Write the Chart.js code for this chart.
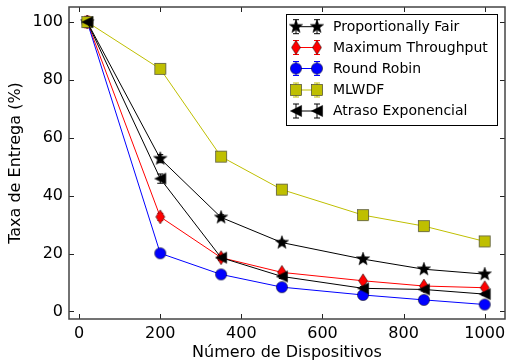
<!DOCTYPE html>
<html>
<head>
<meta charset="utf-8">
<script src="https://cdn.jsdelivr.net/npm/chart.js@4/dist/chart.umd.min.js"></script>
<style>
html,body{margin:0;padding:0;background:#fff;}
#wrap{position:relative;width:507px;height:362px;}
</style>
</head>
<body>
<div id="wrap"><canvas id="c" width="507" height="362"></canvas></div>
<script>
// ---- data ----
const devices = [20, 200, 350, 500, 700, 850, 1000];
const seriesNames = ["Proportionally Fair", "Maximum Throughput", "Round Robin", "MLWDF", "Atraso Exponencial"];
const pfValues   = [100, 52.8, 32.5, 23.8, 18.1, 14.6, 12.9];
const mtValues   = [100, 32.7, 18.6, 13.5, 10.6, 8.8, 8.2];
const rrValues   = [100, 20.1, 12.8, 8.4, 5.7, 4.0, 2.4];
const mlwdfValues= [100, 83.8, 53.5, 42.1, 33.3, 29.5, 24.2];
const aeValues   = [100, 45.9, 18.6, 12.1, 8.0, 7.6, 6.0];
const pfErr   = [0.6, 1.4, 0.9, 0.8, 0.6, 0.6, 0.5];
const mtErr   = [2.0, 1.2, 0.9, 0.7, 0.6, 0.5, 0.5];
const rrErr   = [0.5, 0.6, 0.5, 0.4, 0.4, 0.3, 0.3];
const mlwdfErr= [0.5, 0.8, 0.8, 0.6, 0.6, 0.5, 0.5];
const aeErr   = [0.6, 1.6, 1.0, 0.7, 0.6, 0.5, 0.5];
const xTicks = [0, 200, 400, 600, 800, 1000];
const yTicks = [0, 20, 40, 60, 80, 100];

// ---- marker images ----
function mk(w, h, draw) {
  const c = document.createElement('canvas');
  c.width = w; c.height = h;
  const g = c.getContext('2d');
  g.translate(w / 2, h / 2);
  draw(g);
  return c;
}
const starImg = mk(16, 16, g => {
  g.beginPath();
  const R = 7, r = 2.9;
  for (let i = 0; i < 10; i++) {
    const rad = i % 2 ? r : R;
    const a = -Math.PI / 2 + i * Math.PI / 5;
    const px = Math.cos(a) * rad, py = Math.sin(a) * rad;
    i ? g.lineTo(px, py) : g.moveTo(px, py);
  }
  g.closePath();
  g.fillStyle = '#000'; g.fill();
  g.lineWidth = 0.5; g.strokeStyle = '#000'; g.stroke();
});
const diamondImg = mk(12, 18, g => {
  g.beginPath();
  g.moveTo(0, -7); g.lineTo(4.5, 0); g.lineTo(0, 7); g.lineTo(-4.5, 0); g.closePath();
  g.fillStyle = '#ff0000'; g.fill();
  g.lineWidth = 0.5; g.strokeStyle = '#000'; g.stroke();
});
const circleImg = mk(14, 14, g => {
  g.beginPath(); g.arc(0, 0, 5.6, 0, Math.PI * 2);
  g.fillStyle = '#0000ff'; g.fill();
  g.lineWidth = 0.5; g.strokeStyle = '#000'; g.stroke();
});
const squareImg = mk(14, 14, g => {
  g.fillStyle = '#bfbf00'; g.fillRect(-5.6, -5.6, 11.2, 11.2);
  g.lineWidth = 0.6; g.strokeStyle = '#333'; g.strokeRect(-5.6, -5.6, 11.2, 11.2);
});
const triImg = mk(14, 14, g => {
  g.beginPath();
  g.moveTo(-5.6, 0); g.lineTo(5.6, -5.6); g.lineTo(5.6, 5.6); g.closePath();
  g.fillStyle = '#000'; g.fill();
  g.lineWidth = 0.5; g.strokeStyle = '#000'; g.stroke();
});

const colors = ['#000000', '#ff0000', '#0000ff', '#bfbf00', '#000000'];
const allValues = [pfValues, mtValues, rrValues, mlwdfValues, aeValues];
const allErr = [pfErr, mtErr, rrErr, mlwdfErr, aeErr];
const markers = [starImg, diamondImg, circleImg, squareImg, triImg];

const datasets = seriesNames.map((name, i) => ({
  label: name,
  data: devices.map((x, j) => ({x: x, y: allValues[i][j]})),
  err: allErr[i],
  borderColor: colors[i],
  backgroundColor: colors[i],
  borderWidth: 1,
  pointStyle: markers[i],
  pointRadius: 6,
  pointHoverRadius: 6,
  tension: 0,
  fill: false,
  order: 5 - i
}));

const FONT = 'DejaVu Sans';

const framePlugin = {
  id: 'frame',
  beforeDatasetsDraw(chart) {
    const ctx = chart.ctx;
    const ys = chart.scales.y;
    ctx.save();
    chart.data.datasets.forEach((ds, i) => {
      ctx.strokeStyle = ds.borderColor;
      ctx.lineWidth = 1;
      ds.data.forEach((p, j) => {
        const e = ds.err[j];
        const px = chart.scales.x.getPixelForValue(p.x);
        const y1 = ys.getPixelForValue(p.y + e);
        const y2 = ys.getPixelForValue(p.y - e);
        ctx.beginPath();
        ctx.moveTo(px, y1); ctx.lineTo(px, y2);
        ctx.moveTo(px - 3, y1); ctx.lineTo(px + 3, y1);
        ctx.moveTo(px - 3, y2); ctx.lineTo(px + 3, y2);
        ctx.stroke();
      });
    });
    ctx.restore();
  },
  afterDraw(chart) {
    const ctx = chart.ctx;
    const a = chart.chartArea;
    const xs = chart.scales.x, ys = chart.scales.y;
    ctx.save();
    // ticks
    ctx.strokeStyle = '#222';
    ctx.lineWidth = 1;
    ctx.beginPath();
    xTicks.forEach(v => {
      const px = Math.round(xs.getPixelForValue(v)) + 0.5;
      ctx.moveTo(px, a.bottom); ctx.lineTo(px, a.bottom - 5);
      ctx.moveTo(px, a.top); ctx.lineTo(px, a.top + 5);
    });
    yTicks.forEach(v => {
      const py = Math.round(ys.getPixelForValue(v)) + 0.5;
      ctx.moveTo(a.left, py); ctx.lineTo(a.left + 5, py);
      ctx.moveTo(a.right, py); ctx.lineTo(a.right - 5, py);
    });
    ctx.stroke();
    // frame
    ctx.strokeStyle = '#444';
    ctx.lineWidth = 1.5;
    ctx.strokeRect(a.left, a.top, a.right - a.left, a.bottom - a.top);

    // legend
    const lx = 286.5, ly = 14.5, lw = 211, lh = 111;
    ctx.fillStyle = '#fff';
    ctx.fillRect(lx, ly, lw, lh);
    ctx.strokeStyle = '#000';
    ctx.lineWidth = 1;
    ctx.strokeRect(lx, ly, lw, lh);
    const rows = [26.7, 47.5, 68.5, 90, 111];
    ctx.font = '14px "' + FONT + '"';
    ctx.textBaseline = 'middle';
    ctx.textAlign = 'left';
    seriesNames.forEach((name, i) => {
      const y = rows[i];
      const x1 = 296, x2 = 317;
      ctx.strokeStyle = colors[i];
      ctx.lineWidth = 1;
      ctx.beginPath();
      ctx.moveTo(x1, y); ctx.lineTo(x2, y);
      [x1, x2].forEach(x => {
        ctx.moveTo(x, y - 7); ctx.lineTo(x, y + 7);
        ctx.moveTo(x - 3, y - 7); ctx.lineTo(x + 3, y - 7);
        ctx.moveTo(x - 3, y + 7); ctx.lineTo(x + 3, y + 7);
      });
      ctx.stroke();
      const m = markers[i];
      [x1, x2].forEach(x => ctx.drawImage(m, x - m.width / 2, y - m.height / 2));
      ctx.fillStyle = '#000';
      ctx.fillText(name, 333, y + 0.5);
    });
    ctx.restore();
  }
};

new Chart(document.getElementById('c'), {
  type: 'line',
  data: {datasets: datasets},
  plugins: [framePlugin],
  options: {
    responsive: false,
    animation: false,
    devicePixelRatio: 1,
    layout: {autoPadding: false, padding: {top: 7, right: 2, left: 0, bottom: 0}},
    plugins: {legend: {display: false}, tooltip: {enabled: false}},
    scales: {
      x: {
        type: 'linear',
        min: -25, max: 1050,
        afterBuildTicks: s => { s.ticks = xTicks.map(v => ({value: v})); },
        afterFit: s => { s.height = 43; s.paddingLeft = 0; s.paddingRight = 0; },
        grid: {display: false, drawTicks: true, tickLength: 5},
        border: {display: false},
        ticks: {color: '#000', padding: 0, font: {family: FONT, size: 16}, maxRotation: 0, autoSkip: false, callback: v => String(v)},
        title: {display: true, text: 'Número de Dispositivos', color: '#000', font: {family: FONT, size: 16, lineHeight: 1.2}, padding: {top: 0, bottom: 0}}
      },
      y: {
        type: 'linear',
        min: -2.6, max: 105.2,
        afterBuildTicks: s => { s.ticks = yTicks.map(v => ({value: v})); },
        afterFit: s => { s.width = 69; s.paddingTop = 0; s.paddingBottom = 0; },
        grid: {display: false, drawTicks: false},
        border: {display: false},
        ticks: {color: '#000', padding: 6, font: {family: FONT, size: 16}, autoSkip: false, callback: v => String(v)},
        title: {display: true, text: 'Taxa de Entrega (%)', color: '#000', font: {family: FONT, size: 16, lineHeight: 1.2}, padding: {top: 6, bottom: 0}}
      }
    }
  }
});
</script>
</body>
</html>
